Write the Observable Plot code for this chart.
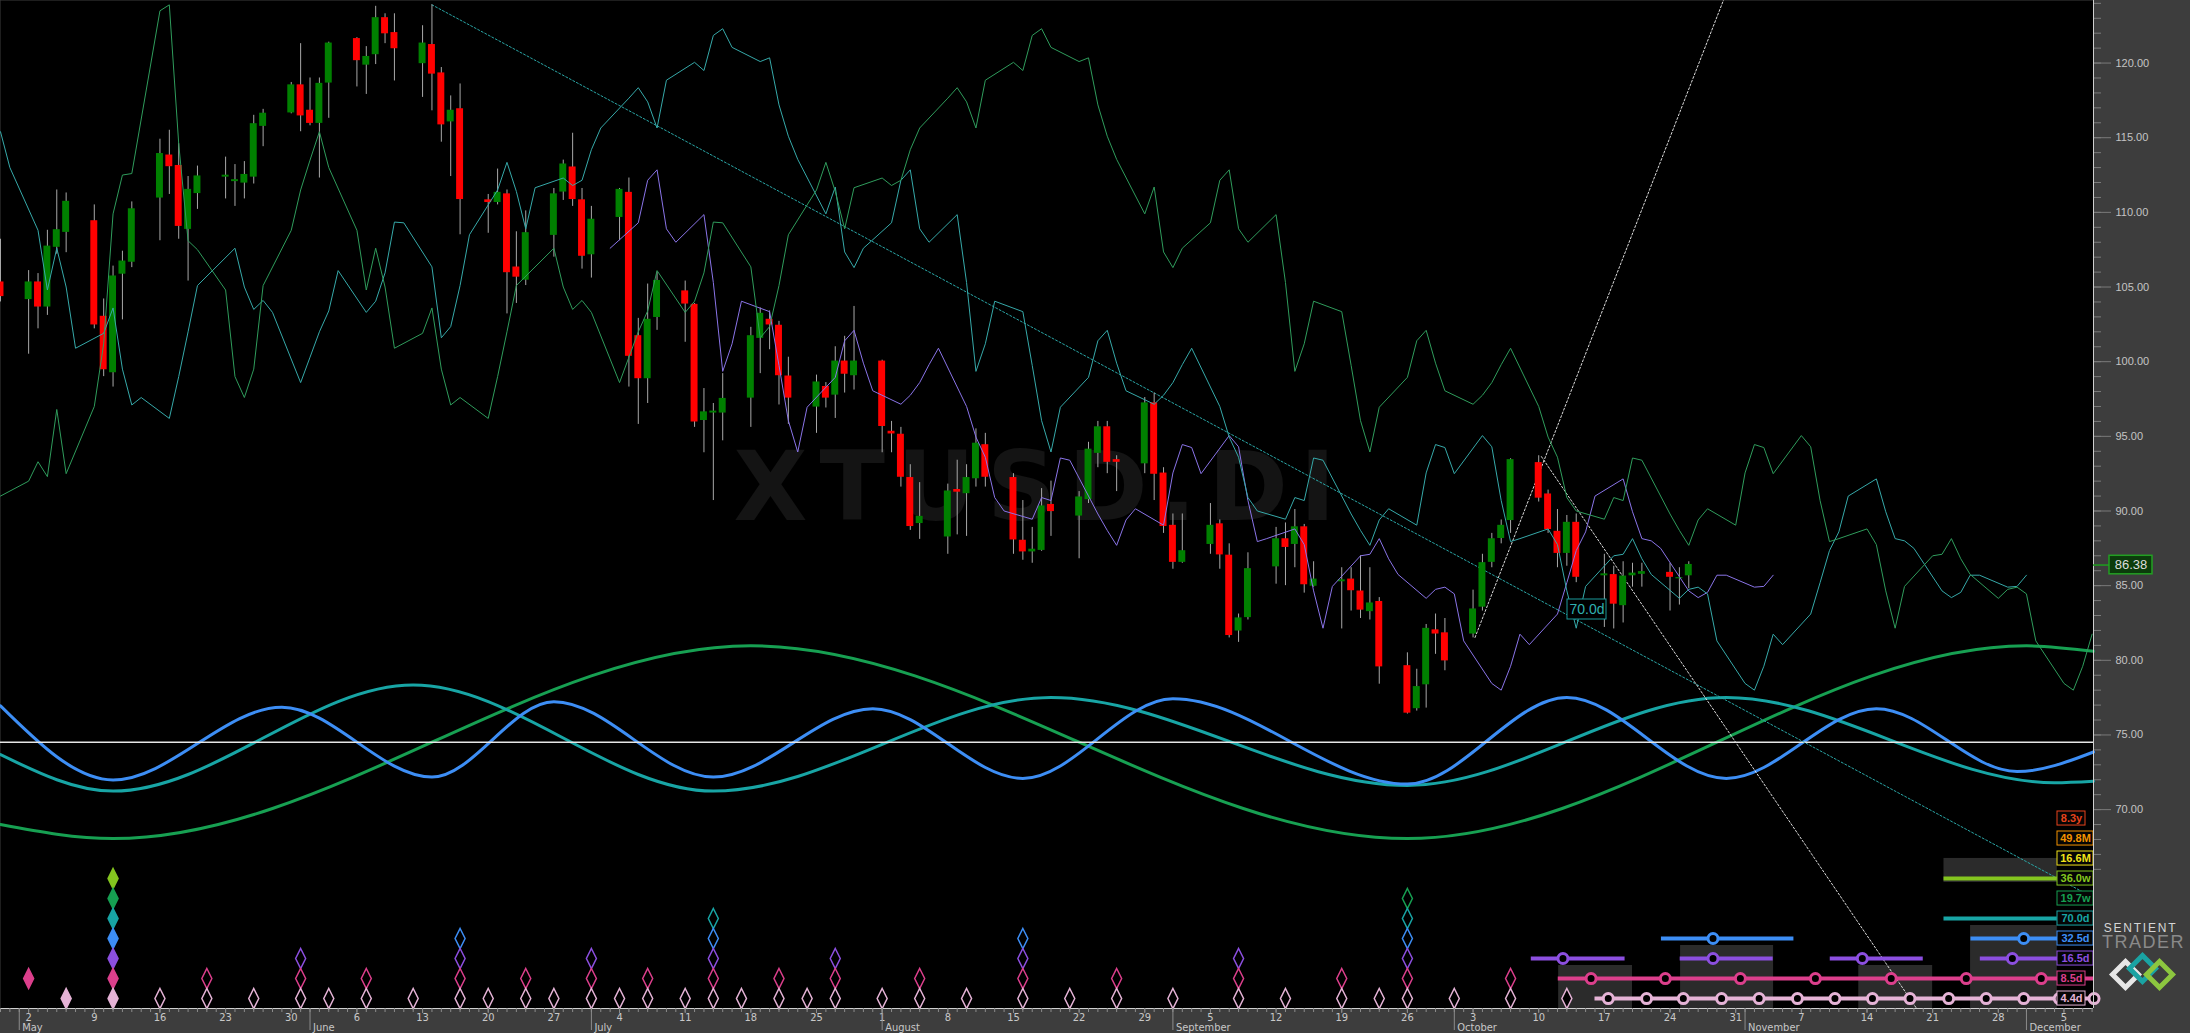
<!DOCTYPE html>
<html><head><meta charset="utf-8">
<script src="https://cdn.jsdelivr.net/npm/d3@7"></script>
<script src="https://cdn.jsdelivr.net/npm/@observablehq/plot@0.6"></script>
<style>
html,body{margin:0;padding:0;background:#3d3d3d;overflow:hidden}
#chart svg{display:block}
</style></head><body><div id="chart"></div>
<script>
// ---------- DATA ----------
const tradeDates = ["2022-04-29",
"2022-05-02","2022-05-03","2022-05-04","2022-05-05","2022-05-06","2022-05-09","2022-05-10","2022-05-11","2022-05-12","2022-05-13",
"2022-05-16","2022-05-17","2022-05-18","2022-05-19","2022-05-20","2022-05-23","2022-05-24","2022-05-25","2022-05-26","2022-05-27","2022-05-30","2022-05-31",
"2022-06-01","2022-06-02","2022-06-03","2022-06-06","2022-06-07","2022-06-08","2022-06-09","2022-06-10","2022-06-13","2022-06-14","2022-06-15","2022-06-16","2022-06-17",
"2022-06-20","2022-06-21","2022-06-22","2022-06-23","2022-06-24","2022-06-27","2022-06-28","2022-06-29","2022-06-30",
"2022-07-01","2022-07-04","2022-07-05","2022-07-06","2022-07-07","2022-07-08","2022-07-11","2022-07-12","2022-07-13","2022-07-14","2022-07-15",
"2022-07-18","2022-07-19","2022-07-20","2022-07-21","2022-07-22","2022-07-25","2022-07-26","2022-07-27","2022-07-28","2022-07-29",
"2022-08-01","2022-08-02","2022-08-03","2022-08-04","2022-08-05","2022-08-08","2022-08-09","2022-08-10","2022-08-11","2022-08-12",
"2022-08-15","2022-08-16","2022-08-17","2022-08-18","2022-08-19","2022-08-22","2022-08-23","2022-08-24","2022-08-25","2022-08-26","2022-08-29","2022-08-30","2022-08-31",
"2022-09-01","2022-09-02","2022-09-05","2022-09-06","2022-09-07","2022-09-08","2022-09-09","2022-09-12","2022-09-13","2022-09-14","2022-09-15","2022-09-16",
"2022-09-19","2022-09-20","2022-09-21","2022-09-22","2022-09-23","2022-09-26","2022-09-27","2022-09-28","2022-09-29","2022-09-30",
"2022-10-03","2022-10-04","2022-10-05","2022-10-06","2022-10-07","2022-10-10","2022-10-11","2022-10-12","2022-10-13","2022-10-14",
"2022-10-17","2022-10-18","2022-10-19","2022-10-20","2022-10-21","2022-10-24","2022-10-25","2022-10-26"];

const openP = [105.3,
104.2,105.3,103.7,107.7,108.7,109.4,103.0,99.3,105.9,106.7,
111.0,113.8,113.1,108.9,111.3,112.4,112.1,112.0,112.4,115.8,116.7,118.5,
116.8,116.0,118.7,121.6,119.9,120.6,123.0,122.0,120.0,121.2,119.3,116.1,116.9,
110.8,110.7,111.2,106.3,105.5,108.5,111.4,113.0,110.8,
107.2,109.7,111.3,101.7,98.9,103.0,104.7,103.8,96.1,96.6,96.6,
97.6,101.6,102.8,102.4,99.0,97.0,98.3,97.8,100.0,99.1,
100.0,95.3,95.1,92.2,89.2,88.3,91.4,91.2,92.2,94.4,
92.2,88.0,87.3,87.4,90.4,89.7,90.8,93.9,95.6,93.4,93.2,97.2,92.5,
89.0,86.6,87.8,89.1,87.0,82.0,82.9,86.3,88.1,87.8,88.9,85.0,
85.3,85.4,84.6,83.3,83.9,79.6,76.8,78.4,82.0,81.8,
81.8,83.6,86.6,88.2,89.4,93.2,91.1,88.6,87.2,89.2,
85.7,85.7,83.7,85.7,85.8,85.85,85.5,85.7];

const highP = [108.2,
106.1,105.9,108.8,111.5,111.3,110.5,104.2,106.4,107.4,110.7,
114.9,115.5,114.6,112.4,113.1,113.7,113.2,113.4,116.5,116.9,118.7,121.3,
119.0,119.0,121.4,121.7,121.1,123.8,123.3,123.3,122.5,123.9,119.7,117.8,118.6,
111.2,112.9,111.5,108.7,110.1,111.6,113.5,115.3,111.6,
110.4,111.6,112.3,102.9,105.2,106.0,105.4,103.9,98.2,97.2,99.2,
102.3,103.6,103.4,102.7,100.3,99.1,98.6,101.0,101.7,103.7,
100.1,96.0,95.6,93.1,91.9,91.8,93.4,93.1,95.5,95.2,
92.5,90.7,88.9,91.5,92.0,91.3,94.6,96.0,96.0,93.7,97.6,97.9,92.9,
89.8,89.8,90.5,89.4,87.8,83.1,87.2,88.9,89.2,90.1,89.1,86.6,
86.2,86.2,87.0,86.2,84.2,80.5,79.4,82.4,83.1,82.8,
84.7,87.1,88.5,89.4,93.5,93.7,91.4,90.1,89.7,89.8,
87.1,86.3,86.6,86.5,86.5,86.5,86.2,86.6];

const lowP = [104.0,
100.5,102.2,103.1,107.2,107.3,102.2,99.0,98.3,102.8,106.3,
108.1,111.2,108.2,105.4,110.2,110.9,110.4,110.9,111.9,114.4,116.6,115.4,
115.8,112.3,116.3,118.4,117.9,119.9,121.3,118.8,117.7,116.8,114.7,112.4,108.5,
108.6,110.5,103.2,103.9,105.1,107.0,110.8,110.4,106.2,
105.6,108.1,98.3,95.8,97.2,102.1,101.3,95.6,93.9,90.7,94.7,
95.6,99.2,100.8,97.1,95.8,95.2,96.9,96.2,97.9,98.1,
93.9,93.9,91.6,88.7,88.1,87.1,88.4,88.3,91.6,91.6,
87.1,86.7,86.5,87.3,88.3,86.8,90.5,92.9,92.5,91.3,92.5,90.7,88.5,
86.1,86.5,87.1,86.1,81.5,81.2,82.7,85.1,85.0,86.2,84.5,84.9,
82.1,83.3,82.8,82.7,78.4,76.4,76.6,76.8,80.4,79.3,
81.5,83.3,86.2,87.8,88.5,90.6,88.5,86.2,86.3,85.2,
82.2,82.1,82.5,84.9,84.9,83.3,83.7,84.8];

const closeP = [104.4,
105.3,103.7,107.7,108.8,110.7,102.5,99.5,105.7,106.7,110.2,
113.9,113.1,109.1,111.5,112.4,112.45,112.15,112.5,115.9,116.6,118.5,116.5,
116.0,118.6,121.3,120.2,120.4,123.0,122.0,121.0,121.3,119.3,115.9,116.8,110.9,
110.7,111.3,106.0,105.7,108.6,111.2,113.2,110.9,107.1,
109.5,111.5,100.4,98.9,102.8,105.4,103.9,96.0,96.6,96.65,97.5,
101.7,103.2,102.5,99.1,97.6,98.6,97.6,100.0,99.2,100.0,
95.7,95.2,92.3,89.0,89.6,91.3,91.3,92.2,94.5,92.3,
88.1,87.3,87.4,90.3,90.0,90.9,94.1,95.6,93.3,93.3,97.2,92.5,89.0,
86.6,87.3,89.0,87.1,81.7,82.8,86.1,88.1,87.6,88.9,85.1,85.4,
85.35,84.7,83.4,83.8,79.6,76.5,78.2,82.1,81.8,80.0,
83.4,86.5,88.1,89.0,93.4,90.9,88.8,87.2,89.2,85.6,
85.75,83.8,85.6,85.8,85.9,85.6,85.5,86.38];

const lastPrice = 86.38;
const baseLine = 74.52;

// mid prices before the visible candles (they feed the displaced FLD lines at the left)
const earlyDates = ["2022-02-18","2022-02-21","2022-02-22","2022-02-23","2022-02-24","2022-02-25","2022-02-28",
"2022-03-01","2022-03-02","2022-03-03","2022-03-04","2022-03-07","2022-03-08","2022-03-09","2022-03-10","2022-03-11",
"2022-03-14","2022-03-15","2022-03-16","2022-03-17","2022-03-18","2022-03-21","2022-03-22","2022-03-23","2022-03-24","2022-03-25",
"2022-03-28","2022-03-29","2022-03-30","2022-03-31","2022-04-01","2022-04-04","2022-04-05","2022-04-06","2022-04-07","2022-04-08",
"2022-04-11","2022-04-12","2022-04-13","2022-04-14","2022-04-18","2022-04-19","2022-04-20","2022-04-21","2022-04-22",
"2022-04-25","2022-04-26","2022-04-27","2022-04-28"];
const earlyMid = [91.0,92.0,93.3,92.3,96.8,92.5,97.0,
101.2,109.9,112.5,112.6,123.5,123.9,114.6,108.1,107.5,
104.8,99.0,97.6,99.5,105.1,108.8,111.5,113.5,115.4,113.0,
108.8,104.8,107.6,105.0,100.9,101.9,103.6,99.5,97.1,97.6,
96.2,99.0,102.0,105.1,107.6,105.0,103.5,104.1,103.3,
98.6,100.3,102.0,103.4];

// FLD lines: label, displacement (calendar days), first source bar, colour
const fldLabels = ["16.5d","70.0d","19.7w"];
const fldShiftDays = [9, 36, 70];
const fldFirstSource = ["2022-06-24","2022-03-24","2022-02-18"];
const fldColors = ["#8a74e8","#36a9a9","#2f9c5c"];

// cycle sine waves (peaks / troughs)
const greenWaveDates = ["2022-04-29","2022-05-11","2022-07-18","2022-09-26","2022-12-01","2022-12-08T03:36Z"];
const greenWaveVals  = [69.0, 68.06, 80.97, 68.06, 80.97, 80.6];
const tealWaveDates  = ["2022-04-29","2022-05-11","2022-06-12","2022-07-14","2022-08-19","2022-09-26","2022-10-30","2022-12-04","2022-12-08T03:36Z"];
const tealWaveVals   = [73.68, 71.24, 78.35, 71.24, 77.51, 71.62, 77.51, 71.8, 71.9];
const blueWaveDates  = ["2022-04-29","2022-05-11","2022-05-29","2022-06-14","2022-06-27","2022-07-14","2022-07-31","2022-08-16","2022-09-01","2022-09-26","2022-10-13","2022-10-30","2022-11-15","2022-11-30","2022-12-08T03:36Z"];
const blueWaveVals   = [76.95, 71.99, 76.86, 72.18, 77.23, 72.18, 76.76, 72.09, 77.42, 71.71, 77.51, 72.09, 76.76, 72.55, 73.86];

// trend lines
const tealTrendDates = ["2022-06-14","2022-12-08T03:36Z"], tealTrendVals = [123.9, 64.1];
const whiteUpDates   = ["2022-10-03T05:00Z","2022-10-30T12:00Z"], whiteUpVals = [81.53, 125.5];
const whiteDownDates = ["2022-10-10T07:00Z","2022-11-19T07:00Z"], whiteDownVals = [93.64, 56.68];

// cycle labels & colours
const cycleLabels = ["8.3y","49.8M","16.6M","36.0w","19.7w","70.0d","32.5d","16.5d","8.5d","4.4d"];
const cycleColors = ["#e8431c","#f39200","#f2e21a","#84c51f","#16a052","#18a5a5","#3d8ef5","#8c4fe0","#dc3f8c","#e5b3d6"];

// troughs (diamonds)
const troughs = {
  "36.0w": ["2022-05-11"],
  "19.7w": ["2022-05-11","2022-09-26"],
  "70.0d": ["2022-05-11","2022-07-14","2022-09-26"],
  "32.5d": ["2022-05-11","2022-06-17","2022-07-14","2022-08-16","2022-09-26"],
  "16.5d": ["2022-05-11","2022-05-31","2022-06-17","2022-07-01","2022-07-14","2022-07-27","2022-08-16","2022-09-08","2022-09-26"],
  "8.5d":  ["2022-05-02","2022-05-11","2022-05-21","2022-05-31","2022-06-07","2022-06-17","2022-06-24","2022-07-01","2022-07-07","2022-07-14","2022-07-21","2022-07-27","2022-08-05","2022-08-16","2022-08-26","2022-09-08","2022-09-19","2022-09-26","2022-10-07"],
  "4.4d":  ["2022-05-06","2022-05-11","2022-05-16","2022-05-21","2022-05-26","2022-05-31","2022-06-03","2022-06-07","2022-06-12","2022-06-17","2022-06-20","2022-06-24","2022-06-27","2022-07-01","2022-07-04","2022-07-07","2022-07-11","2022-07-14","2022-07-17","2022-07-21","2022-07-24","2022-07-27","2022-08-01","2022-08-05","2022-08-10","2022-08-16","2022-08-21","2022-08-26","2022-09-01","2022-09-08","2022-09-13","2022-09-19","2022-09-23","2022-09-26","2022-10-01","2022-10-07","2022-10-13"]
};
const filledTroughs = ["2022-05-02","2022-05-06","2022-05-11"];

// projected troughs
const projSegments = {
  "36.0w": [["2022-11-22T05:00Z","2022-12-04T07:00Z"]],
  "70.0d": [["2022-11-22T05:00Z","2022-12-04T07:00Z"]],
  "32.5d": [["2022-10-23T02:00Z","2022-11-06T05:00Z"],["2022-11-25T02:00Z","2022-12-08T03:36Z"]],
  "16.5d": [["2022-10-09T05:00Z","2022-10-19T05:00Z"],["2022-10-25T02:00Z","2022-11-04T00:00Z"],["2022-11-10T02:00Z","2022-11-20T00:00Z"],["2022-11-26T02:00Z","2022-12-08T03:36Z"]],
  "8.5d":  [["2022-10-12T02:00Z","2022-12-08T03:36Z"]],
  "4.4d":  [["2022-10-16T00:00Z","2022-12-08T03:36Z"]]
};
const projCircles = {
  "32.5d": ["2022-10-28T14:00Z","2022-11-30T17:00Z"],
  "16.5d": ["2022-10-12T14:00Z","2022-10-28T14:00Z","2022-11-13T12:00Z","2022-11-29T12:00Z"],
  "8.5d":  ["2022-10-15T14:00Z","2022-10-23T12:00Z","2022-10-31T12:00Z","2022-11-08T12:00Z","2022-11-16T14:00Z","2022-11-24T14:00Z","2022-12-02T14:00Z"],
  "4.4d":  ["2022-10-17T10:00Z","2022-10-21T12:00Z","2022-10-25T10:00Z","2022-10-29T12:00Z","2022-11-02T12:00Z","2022-11-06T14:00Z","2022-11-10T14:00Z","2022-11-14T14:00Z","2022-11-18T14:00Z","2022-11-22T17:00Z","2022-11-26T17:00Z","2022-11-30T17:00Z","2022-12-04T12:00Z","2022-12-08T05:00Z"]
};
// shaded projection zones
const zoneStarts = ["2022-11-22T05:00Z","2022-11-25T01:00Z","2022-10-25T03:00Z","2022-10-12T03:00Z","2022-11-13T03:00Z"];
const zoneEnds   = ["2022-12-04T07:00Z","2022-12-04T07:00Z","2022-11-04T01:00Z","2022-10-20T00:00Z","2022-11-21T00:00Z"];
const zoneTops   = [66.73, 62.24, 60.90, 59.56, 59.56];
const zoneBottoms= [65.12, 56.68, 56.68, 56.68, 56.68];

// axis tick labels
const yTicks = [70,75,80,85,90,95,100,105,110,115,120];
const mondayTicks = ["2022-05-02","2022-05-09","2022-05-16","2022-05-23","2022-05-30","2022-06-06","2022-06-13","2022-06-20","2022-06-27","2022-07-04","2022-07-11","2022-07-18","2022-07-25","2022-08-01","2022-08-08","2022-08-15","2022-08-22","2022-08-29","2022-09-05","2022-09-12","2022-09-19","2022-09-26","2022-10-03","2022-10-10","2022-10-17","2022-10-24","2022-10-31","2022-11-07","2022-11-14","2022-11-21","2022-11-28","2022-12-05"];
const monthTicks = ["2022-05-01","2022-06-01","2022-07-01","2022-08-01","2022-09-01","2022-10-01","2022-11-01","2022-12-01"];
const monthNames = ["May","June","July","August","September","October","November","December"];
const watermark = "XTUSD.DI";

// ---------- BUILD ----------
const parse = s => new Date(s.length === 10 ? s + "T00:00:00Z" : s);
const X0 = parse("2022-04-29T00:00Z"), X1 = parse("2022-12-08T03:36Z");
const DAY = 864e5;
const PLOT_W = 2093;
const dateAtPx = px => new Date(+X0 + px / PLOT_W * (X1 - X0));
const pxToPrice = px => 120 - (px - 62.6) / 14.93;
const rowPrice = lab => pxToPrice(818 + 20 * cycleLabels.indexOf(lab));
const colorOf = lab => cycleColors[cycleLabels.indexOf(lab)];

const candles = tradeDates.map((d, i) => ({date: parse(d), open: openP[i], high: highP[i], low: lowP[i], close: closeP[i]}));
const mk = (ds, vs) => ds.map((d, i) => ({date: parse(d), value: vs[i]}));
const greenWave = mk(greenWaveDates, greenWaveVals);
const tealWave = mk(tealWaveDates, tealWaveVals);
const blueWave = mk(blueWaveDates, blueWaveVals);
const tealTrend = mk(tealTrendDates, tealTrendVals);
const whiteUp = mk(whiteUpDates, whiteUpVals);
const whiteDown = mk(whiteDownDates, whiteDownVals);

// source mid-price table (early mids + candle mids), displaced forward for each FLD
const srcTable = [
  ...earlyDates.map((d, i) => ({src: parse(d), mid: earlyMid[i]})),
  ...candles.map(c => ({src: c.date, mid: (c.high + c.low) / 2}))
];
const fldRows = [];
fldLabels.forEach((lab, k) => {
  const first = parse(fldFirstSource[k]);
  for (const r of srcTable) {
    if (r.src < first) continue;
    const date = new Date(+r.src + fldShiftDays[k] * DAY);
    if (date > X1) continue;
    fldRows.push({fld: lab, color: fldColors[k], date, value: r.mid});
  }
});

const diamonds = [];
for (const lab of Object.keys(troughs)) for (const d of troughs[lab])
  diamonds.push({cycle: lab, date: parse(d), filled: filledTroughs.includes(d)});
const segs = [];
for (const lab of Object.keys(projSegments)) for (const [a, b] of projSegments[lab]) segs.push({cycle: lab, start: parse(a), end: parse(b)});
const circles = [];
for (const lab of Object.keys(projCircles)) for (const d of projCircles[lab]) circles.push({cycle: lab, date: parse(d)});
const zones = zoneStarts.map((s, i) => ({start: parse(s), end: parse(zoneEnds[i]), top: zoneTops[i], bottom: zoneBottoms[i]}));

const legend = cycleLabels.map(l => ({label: l, w: l.length === 4 ? 28 : 36}));

const tallDiamond = {draw(ctx, size) { const r = Math.sqrt(size / Math.PI); ctx.moveTo(0, -r); ctx.lineTo(r * 0.5, 0); ctx.lineTo(0, r); ctx.lineTo(-r * 0.5, 0); ctx.closePath(); }};
const squareDiamond = {draw(ctx, size) { const r = Math.sqrt(size / Math.PI); ctx.moveTo(0, -r); ctx.lineTo(r, 0); ctx.lineTo(0, r); ctx.lineTo(-r, 0); ctx.closePath(); }};

const narrow = "'Liberation Sans Narrow','DejaVu Sans Condensed','Liberation Sans',sans-serif";

const chart = Plot.plot({
  width: 2190, height: 1033,
  marginLeft: 0, marginRight: 97, marginTop: 0, marginBottom: 25,
  x: {type: "utc", domain: [X0, X1], axis: null},
  y: {domain: [56.68, 124.19], axis: null},
  color: {type: "identity"},
  style: {background: "#3d3d3d", fontFamily: "'Liberation Sans',Arial,sans-serif"},
  marks: [
    Plot.frame({fill: "#000", stroke: null}),
    Plot.text([watermark], {frameAnchor: "top-left", dx: 1040, dy: 489, textAnchor: "middle", lineAnchor: "middle", fontSize: 96, fontWeight: "bold", fontFamily: "'DejaVu Sans',sans-serif", fill: "#141414"}),
    // shaded projection zones
    Plot.rect(zones, {x1: "start", x2: "end", y1: "top", y2: "bottom", fill: "#2b2b2b"}),
    // sine waves
    Plot.line(greenWave, {x: "date", y: "value", curve: "monotone-x", stroke: "#17a052", strokeWidth: 3}),
    Plot.line(tealWave, {x: "date", y: "value", curve: "monotone-x", stroke: "#18a5a5", strokeWidth: 3}),
    Plot.line(blueWave, {x: "date", y: "value", curve: "monotone-x", stroke: "#3d8ef5", strokeWidth: 3}),
    Plot.ruleY([baseLine], {stroke: "#e6e6e6", strokeWidth: 1.5}),
    // trend lines
    Plot.line(tealTrend, {x: "date", y: "value", stroke: "#2aa6a6", strokeWidth: 1, strokeDasharray: "2,2"}),
    Plot.line(whiteUp, {x: "date", y: "value", stroke: "#dcdcdc", strokeWidth: 1, strokeDasharray: "2,2", clip: true}),
    Plot.line(whiteDown, {x: "date", y: "value", stroke: "#dcdcdc", strokeWidth: 1, strokeDasharray: "2,2", clip: true}),
    // candles
    Plot.ruleX(candles, {x: "date", y1: "low", y2: "high", stroke: "#a8a8a8", strokeWidth: 1}),
    Plot.rect(candles, {x1: d => new Date(+d.date - 0.37 * DAY), x2: d => new Date(+d.date + 0.37 * DAY), y1: "open", y2: "close",
      fill: d => d.close >= d.open ? "#008000" : "#ff0000", insetTop: -0.6, insetBottom: -0.6}),
    // FLD lines
    Plot.line(fldRows, {x: "date", y: "value", z: "fld", stroke: "color", strokeWidth: 1, clip: true}),
    // 70.0d tag
    Plot.rect([0], {x1: dateAtPx(1567), x2: dateAtPx(1606), y1: pxToPrice(599), y2: pxToPrice(619), fill: "#000", stroke: "#1a9a9a"}),
    Plot.text(["70.0d"], {x: dateAtPx(1586.5), y: pxToPrice(609), fill: "#2fb0b0", fontSize: 14}),
    // trough diamonds
    Plot.dot(diamonds, {x: "date", y: d => rowPrice(d.cycle), r: 10, symbol: tallDiamond,
      stroke: d => colorOf(d.cycle), fill: d => d.filled ? colorOf(d.cycle) : "#000", strokeWidth: 1.5}),
    // projections
    Plot.ruleY(segs, {x1: "start", x2: "end", y: d => rowPrice(d.cycle), stroke: d => colorOf(d.cycle), strokeWidth: 4}),
    Plot.dot(circles, {x: "date", y: d => rowPrice(d.cycle), r: 5, fill: "#000", stroke: d => colorOf(d.cycle), strokeWidth: 3}),
    // legend boxes
    Plot.rect(legend, {x1: dateAtPx(2057), x2: d => dateAtPx(2057 + d.w), y1: d => rowPrice(d.label) + 0.47, y2: d => rowPrice(d.label) - 0.47,
      fill: "#050505", stroke: d => colorOf(d.label), strokeWidth: 1}),
    Plot.text(legend, {x: d => dateAtPx(2057 + d.w / 2), y: d => rowPrice(d.label), text: "label", fill: d => colorOf(d.label), fontSize: 11, fontWeight: "bold"}),
    // frame edges
    Plot.ruleX([X1], {stroke: "#cfcfcf", strokeWidth: 1}),
    Plot.ruleY([56.68], {stroke: "#cfcfcf", strokeWidth: 1}),
    // y axis
    Plot.axisY({anchor: "right", ticks: d3.range(66, 125, 1), tickSize: 7, tickFormat: () => "", stroke: "#7a7a7a"}),
    Plot.axisY({anchor: "right", ticks: yTicks, tickSize: 17, tickPadding: 5, tickFormat: d => d.toFixed(2), stroke: "#7a7a7a", fill: "#c4c4c4", fontSize: 11}),
    // current price
    Plot.ruleY([lastPrice], {x1: X1, x2: dateAtPx(2109), stroke: "#1f9f1f", strokeWidth: 1.5}),
    Plot.rect([lastPrice], {x1: dateAtPx(2109), x2: dateAtPx(2152), y1: d => d + 0.62, y2: d => d - 0.62, fill: "#0c3c0c", stroke: "#22a022", strokeWidth: 1.5}),
    Plot.text([lastPrice], {x: dateAtPx(2130.5), y: d => d, text: d => d.toFixed(2), fill: "#dcdcdc", fontSize: 13}),
    // x axis
    Plot.axisX({ticks: d3.utcDay.range(X0, X1), tickSize: 4, tickFormat: () => "", stroke: "#8c8c8c"}),
    Plot.axisX({ticks: mondayTicks.map(parse), tickSize: 5, tickPadding: 0, tickFormat: d3.utcFormat("%-d"), stroke: "#8c8c8c", fill: "#c8c8c8", fontSize: 11, fontFamily: narrow}),
    Plot.axisX({ticks: monthTicks.map(parse), tickSize: 22, tickFormat: () => "", stroke: "#8c8c8c"}),
    Plot.axisX({ticks: monthTicks.map(parse), tickSize: 0, tickPadding: 15, tickFormat: d => monthNames[d.getUTCMonth() - 4], textAnchor: "start", dx: 3, fill: "#c8c8c8", fontSize: 11, fontFamily: narrow}),
    // branding
    Plot.text(["SENTIENT"], {frameAnchor: "bottom-right", dx: 47, dy: -80, textAnchor: "middle", lineAnchor: "middle", fontSize: 12, fill: "#d6d6d6"}),
    Plot.text(["TRADER"], {frameAnchor: "bottom-right", dx: 50, dy: -66, textAnchor: "middle", lineAnchor: "middle", fontSize: 18, fill: "#8a8a8a"}),
    Plot.dot([0], {frameAnchor: "bottom-right", dx: 32, dy: -34, r: 13, symbol: squareDiamond, fill: "none", stroke: "#e6e6e6", strokeWidth: 5}),
    Plot.dot([0], {frameAnchor: "bottom-right", dx: 49, dy: -40, r: 13, symbol: squareDiamond, fill: "none", stroke: "#1aa3a3", strokeWidth: 5}),
    Plot.dot([0], {frameAnchor: "bottom-right", dx: 66, dy: -34, r: 13, symbol: squareDiamond, fill: "none", stroke: "#8cc63f", strokeWidth: 5})
  ]
});
// letter spacing for the watermark and branding texts
const sel = d3.select(chart).selectAll("text");
sel.filter(function() { return this.textContent === watermark; }).attr("letter-spacing", "12px");
sel.filter(function() { return this.textContent === "SENTIENT"; }).attr("letter-spacing", "1.8px");
sel.filter(function() { return this.textContent === "TRADER"; }).attr("letter-spacing", "1.5px");
document.getElementById("chart").appendChild(chart);
</script></body></html>
